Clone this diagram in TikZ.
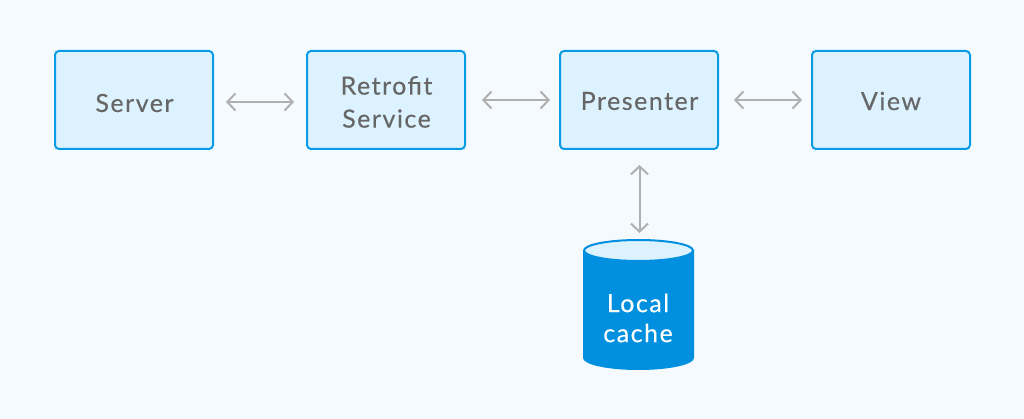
\documentclass[tikz,border=0pt]{standalone}
\usepackage{fontspec}
\setmainfont{Lato}[LetterSpace=6,FakeBold=0.25]
\usetikzlibrary{arrows.meta}
\definecolor{bgc}{HTML}{F5FAFF}
\definecolor{boxfill}{HTML}{DDF2FF}
\definecolor{boxline}{HTML}{0A9BE6}
\definecolor{cyl}{HTML}{0090DF}
\definecolor{arr}{HTML}{B0B0B0}
\definecolor{txt}{HTML}{666666}
\tikzset{
  x=1pt,y=-1pt,
  boxnode/.style={draw=boxline,fill=boxfill,line width=2pt,rounded corners=4pt,minimum width=158pt,minimum height=98pt,inner sep=0pt,anchor=center},
  lbl/.style={text=txt,font=\fontsize{25}{33}\selectfont,align=center,inner sep=0pt},
  wlbl/.style={text=white,font=\fontsize{25}{30}\selectfont,align=center,inner sep=0pt},
  link/.style={draw=arr,line width=2pt,{Straight Barb[length=8pt,width=17pt,line width=2pt]}-{Straight Barb[length=8pt,width=17pt,line width=2pt]},shorten <=12.5pt,shorten >=12.5pt},
}
\begin{document}
\begin{tikzpicture}
\useasboundingbox (0,0) rectangle (1024,419);
\fill[bgc] (0,0) rectangle (1024,419);
\node[boxnode] (server) at (134,100) {};
\node[boxnode] (retrofit) at (386,100) {};
\node[boxnode] (presenter) at (639,100) {};
\node[boxnode] (view) at (891,100) {};
\node[lbl] (serverT) at (134.5,103) {Server};
\node[lbl] (retrofitT) at (386.5,102) {Retrofit\\Service};
\node[lbl] (presenterT) at (639.5,101) {Presenter};
\node[lbl] (viewT) at (891,101) {View};
% cylinder
\fill[cyl] (583,250.5) -- (583,358) arc[start angle=180,end angle=0,x radius=55.5,y radius=12] -- (694,250.5) -- cycle;
\draw[fill=boxfill,draw=cyl,line width=2pt] (638.5,250.5) ellipse[x radius=54.5,y radius=10.5];
\coordinate (cache) at (639.5,240);
\node[wlbl] (cacheT) at (638,318) {Local\\cache};
\draw[link,shorten <=12pt,shorten >=12pt] ([yshift=-2pt]server.east) -- ([yshift=-2pt]retrofit.west);
\draw[link,shorten <=16pt,shorten >=9pt] (retrofit.east) -- (presenter.west);
\draw[link,shorten <=15pt,shorten >=9pt] (presenter.east) -- (view.west);
\draw[link,shorten <=15pt,shorten >=7pt] ([xshift=0.5pt]presenter.south) -- (cache);
\end{tikzpicture}
\end{document}
